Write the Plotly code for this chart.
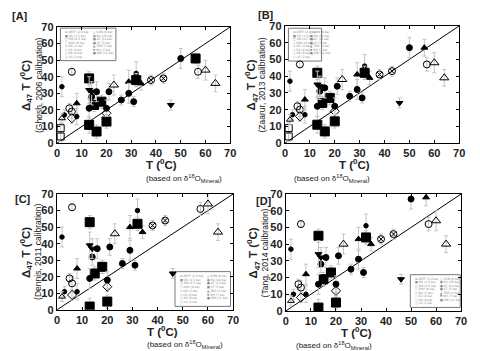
# Clumped isotope temperature vs. d18O-based temperature, four calibrations
import plotly.graph_objects as go

panels = ["A", "B", "C", "D"]
calibrations = ["Ghosh, 2006 calibration", "Zaarur, 2013 calibration",
                "Dennis, 2011 calibration", "Tang, 2014 calibration"]
ticks = [0, 10, 20, 30, 40, 50, 60, 70]

# x = T from d18O of the mineral, y = D47 temperature per panel
small_dot_x = [2, 3, 8, 32]
small_dot_y = {"A": [34, 17, 16, 42], "B": [37, 17, 17, 46],
               "C": [44, 11, 11, 60], "D": [37, 10, 10, 51]}
small_dot_err = [6, 3, 5, 7]

open_square_x = [1.5, 1.5]
open_square_y = {"A": [9, 4], "B": [9, 4], "C": [None, None], "D": [None, None]}
open_square_err = [3, 3]

open_small_tri_x = [2]
open_small_tri_y = {"A": [15], "B": [14], "C": [8], "D": [6]}
open_small_tri_err = [3]

open_circle_x = [5, 6, 6, 57]
open_circle_y = {"A": [21, 19, 43, 43], "B": [22, 20, 47, 47],
                 "C": [19, 16, 62, 61], "D": [16, 14, 52, 52]}
open_circle_err = [3, 4, 2, 4]

open_diamond_x = [6, 20]
open_diamond_y = {"A": [15, 18], "B": [16, 19], "C": [9, 14], "D": [8, 12]}
open_diamond_err = [3, 3]

filled_tri_x = [8, 29, 34, 56]
filled_tri_y = {"A": [24, 37, 36, None], "B": [26, 41, 39, 57],
                "C": [25, 50, 47, None], "D": [22, 43, 40, 68]}
filled_tri_err = [6, 7, 4, 5]

big_square_x = [13, 13, 15, 16, 18, 20, 32, 56]
big_square_y = {"A": [39, 11, 23, 7, 25, 13, 38, 51],
                "B": [42, 11, 24, 7, 27, 13, 42, None],
                "C": [53, 2, 22, None, 26, 5, 52, None],
                "D": [45, 2, 19, None, 23, 5, 44, None]}
big_square_err = [4, 5, 4, 4, 4, 4, 4, 3]

filled_circle_x = [13, 14, 16, 20, 21, 26, 29, 31, 50]
filled_circle_y = {"A": [21, 28, 31, 21, 31, 26, 30, 25, 51],
                   "B": [22, 31, 33, 22, 34, 28, 32, 27, 57],
                   "C": [19, 32, 37, 18, 38, 28, 36, 27, None],
                   "D": [16, 28, 32, 16, 33, 25, 31, 23, 67]}
filled_circle_err = [6, 5, 6, 5, 5, 3, 6, 3, 6]

tri_down_x = [13, 14, 46]
tri_down_y = {"A": [32, 31, 23], "B": [35, 34, 24],
              "C": [39, 37, 22], "D": [34, 32, 19]}
tri_down_err = [8, 6, 3]

open_tri_x = [23, 60, 64]
open_tri_y = {"A": [35, 44, 36], "B": [38, 48, 39],
              "C": [46, 64, 47], "D": [40, 54, 40]}
open_tri_err = [6, 6, 5]

crossed_x = [38, 43]
crossed_y = {"A": [38, 39], "B": [41, 43], "C": [51, 54], "D": [43, 46]}
crossed_err = [3, 3]

# legend rows (symbol, label) - left column then right column
legend_left = [("⊗", "ARTF (2.0 ka)"), ("■", "GS (1.5 ka)"), ("□", "MK (0.5 ka)"),
               ("◇", "SMV (6 ka)"), ("▽", "DG (3 ka)"), ("◇", "CS (4 ka)"),
               ("○", "KB (8 ka)"), ("○", "LG (2 ka)")]
legend_right = [("△", "CDN (9 ka)"), ("●", "BU (10 ka)"), ("■", "AT (12 ka)"),
                ("■", "ST (5 ka)"), ("▲", "TRD (3 ka)"), ("▼", "NH (7 ka)"),
                ("■", "WB (11 ka)")]

groups = [
    (small_dot_x, small_dot_y, small_dot_err, "circle", 4.5),
    (open_square_x, open_square_y, open_square_err, "square-open", 7),
    (open_small_tri_x, open_small_tri_y, open_small_tri_err, "triangle-up-open", 6),
    (open_circle_x, open_circle_y, open_circle_err, "circle-open", 7),
    (open_diamond_x, open_diamond_y, open_diamond_err, "diamond-open", 7),
    (filled_tri_x, filled_tri_y, filled_tri_err, "triangle-up", 6),
    (big_square_x, big_square_y, big_square_err, "square", 9),
    (filled_circle_x, filled_circle_y, filled_circle_err, "circle", 6),
    (tri_down_x, tri_down_y, tri_down_err, "triangle-down", 6),
    (open_tri_x, open_tri_y, open_tri_err, "triangle-up-open", 8),
    (crossed_x, crossed_y, crossed_err, "circle-x-open", 7),
]

W, H = 480, 351
# layout of the 2x2 grid (paper fractions)
x_dom = {"A": [0.102, 0.463], "B": [0.577, 0.940], "C": [0.102, 0.469], "D": [0.579, 0.944]}
y_dom = {"A": [0.615, 0.946], "B": [0.615, 0.949], "C": [0.140, 0.470], "D": [0.137, 0.470]}
label_pos = {"A": (2, 8), "B": (248, 7), "C": (5, 191), "D": (246, 193)}  # px
ytitle_off = {"A": (31, 18), "B": (34, 23), "C": (31, 19), "D": (32, 20)}  # px left of axis
legend_box = {"A": [0.02, 0.34, 0.71, 0.99], "B": [0.02, 0.21, 0.70, 0.98],
              "C": [0.67, 0.985, 0.03, 0.33], "D": [0.71, 0.995, 0.03, 0.31]}

FONT = "Liberation Sans, Arial, sans-serif"
fig = go.Figure()
annotations = []
shapes = []

for i, p in enumerate(panels):
    sfx = "" if i == 0 else str(i + 1)
    xa, ya = "x" + sfx, "y" + sfx

    # 1:1 line
    fig.add_trace(go.Scatter(x=[0, 70], y=[0, 70], mode="lines", xaxis=xa, yaxis=ya,
                             line=dict(color="black", width=1), showlegend=False,
                             hoverinfo="skip"))
    for gx, gy, gerr, sym, size in groups:
        fig.add_trace(go.Scatter(
            x=gx, y=gy[p], mode="markers", xaxis=xa, yaxis=ya, showlegend=False,
            error_y=dict(type="data", array=gerr, color="#c4c4c4", thickness=1, width=2),
            marker=dict(symbol=sym, size=size, color="black",
                        line=dict(color="black", width=1)),
        ))

    axis_style = dict(
        range=[0, 70], tickvals=ticks, automargin=False,
        showline=True, linecolor="black", linewidth=1.3, mirror="allticks",
        ticks="inside", ticklen=3, tickcolor="black", showgrid=False, zeroline=False,
        tickfont=dict(family=FONT, size=11, color="#222", weight="bold"))
    fig.layout["xaxis" + sfx] = dict(domain=x_dom[p], anchor=ya, **axis_style)
    fig.layout["yaxis" + sfx] = dict(domain=y_dom[p], anchor=xa, **axis_style)

    x0, x1 = x_dom[p]
    y0, y1 = y_dom[p]
    xc = (x0 + x1) / 2
    ym = (y0 + y1) / 2
    # panel label
    lx, ly = label_pos[p]
    annotations.append(dict(text="[" + p + "]", x=lx / W, y=1 - ly / H, xref="paper",
                            yref="paper", showarrow=False, xanchor="left", yanchor="middle",
                            font=dict(family=FONT, size=11, color="#222", weight="bold")))
    # axis titles
    o1, o2 = ytitle_off[p]
    annotations.append(dict(text="Δ<sub>47</sub> T (<sup>0</sup>C)", x=x0 - o1 / W,
                            y=ym, xref="paper", yref="paper", showarrow=False,
                            textangle=-90, xanchor="center", yanchor="middle",
                            font=dict(family=FONT, size=11.5, color="#222", weight="bold")))
    annotations.append(dict(text="(" + calibrations[i] + ")", x=x0 - o2 / W,
                            y=ym, xref="paper", yref="paper", showarrow=False,
                            textangle=-90, xanchor="center", yanchor="middle",
                            font=dict(family=FONT, size=8.5, color="#222")))
    annotations.append(dict(text="T (<sup>0</sup>C)", x=xc, y=y0 - 21 / H,
                            xref="paper", yref="paper", showarrow=False, yanchor="middle",
                            font=dict(family=FONT, size=11.5, color="#222", weight="bold")))
    annotations.append(dict(text="(based on δ<sup>18</sup>O<sub>Mineral</sub>)", x=xc,
                            y=y0 - 35 / H, xref="paper", yref="paper", showarrow=False,
                            yanchor="middle", font=dict(family=FONT, size=8, color="#222")))

    # legend box
    bx0, bx1, by0, by1 = legend_box[p]
    shapes.append(dict(type="rect", xref=xa + " domain", yref=ya + " domain",
                       x0=bx0, x1=bx1, y0=by0, y1=by1,
                       line=dict(color="#777", width=1), fillcolor="white", layer="below"))
    row_h = (by1 - by0 - 0.04) / len(legend_left)
    for col, entries in enumerate([legend_left, legend_right]):
        cx = bx0 + 0.015 + col * (bx1 - bx0) / 2
        for r, (sym, lab) in enumerate(entries):
            annotations.append(dict(
                text=sym + " " + lab, x=cx, y=by1 - 0.02 - (r + 0.5) * row_h,
                xref=xa + " domain", yref=ya + " domain", showarrow=False,
                xanchor="left", yanchor="middle",
                font=dict(family="DejaVu Sans, sans-serif", size=3, color="#888")))

fig.update_layout(
    width=W, height=H, margin=dict(l=0, r=0, t=0, b=0),
    paper_bgcolor="white", plot_bgcolor="white", showlegend=False,
    annotations=annotations, shapes=shapes,
)

fig.write_html("out.html")
